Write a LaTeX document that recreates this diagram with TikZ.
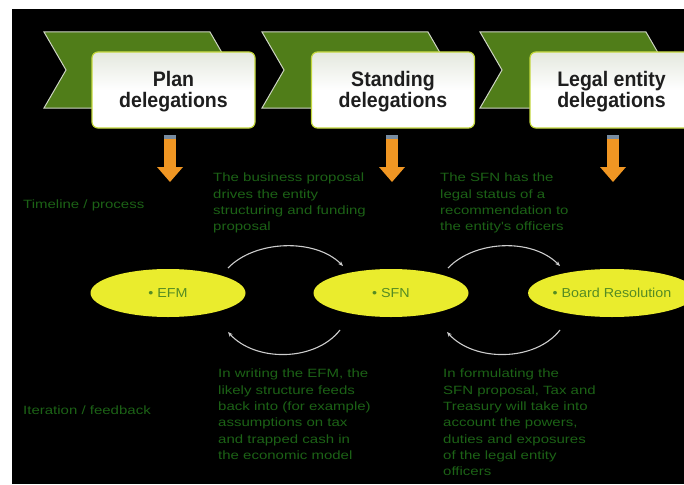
\documentclass[tikz,border=0pt]{standalone}
\usepackage{fontspec}
\setmainfont{Liberation Sans}
\newfontfamily\greenfont[FakeStretch=1.25]{Liberation Sans}
\newfontfamily\headfont[FakeStretch=0.93]{Liberation Sans}
\newfontfamily\ellfont[FakeStretch=1.1]{Liberation Sans}
\usetikzlibrary{shapes.geometric,arrows.meta,calc}
\definecolor{chevgreen}{RGB}{80,125,25}
\definecolor{chevline}{RGB}{205,212,195}
\definecolor{boxline}{RGB}{195,215,60}
\definecolor{boxtop}{RGB}{228,232,222}
\definecolor{arrorange}{RGB}{240,150,35}
\definecolor{arrtop}{RGB}{120,140,160}
\definecolor{ellfill}{RGB}{234,236,45}
\definecolor{elltext}{RGB}{85,140,35}
\definecolor{darkgreentext}{RGB}{28,98,22}
\definecolor{arcgray}{RGB}{205,205,205}
\begin{document}
\begin{tikzpicture}[x=1pt,y=-1pt,
  boxst/.style={draw=boxline, line width=1.2pt, top color=boxtop, bottom color=white,
    middle color=white, rounded corners=6pt,
    minimum width=163pt, minimum height=76pt, inner sep=0pt},
  headst/.style={align=center, text={rgb,255:red,30;green,30;blue,30},
    font=\headfont\bfseries\fontsize{21}{21}\selectfont, inner sep=0pt},
  ellst/.style={ellipse, fill=ellfill, minimum width=155pt, minimum height=48pt,
    inner sep=0pt, text=elltext, font=\ellfont\fontsize{13}{13}\selectfont},
  notest/.style={align=left, text=darkgreentext, inner sep=0pt,
    font=\greenfont\fontsize{12}{16.3}\selectfont},
  sidest/.style={text=darkgreentext, inner sep=0pt,
    font=\greenfont\fontsize{12}{14}\selectfont},
  chevst/.style={fill=chevgreen, draw=chevline, line width=1pt, line join=miter},
  arcst/.style={draw=arcgray, line width=1.1pt, -{Stealth[length=5pt,width=4pt]}}
]
\useasboundingbox (0,0) rectangle (684,484);
\fill[white] (0,0) rectangle (684,484);
\fill[black] (12,9) rectangle (684,484);

% chevrons
\foreach \x in {44,262,480}{
  \path[chevst] (\x,32) -- (\x+166,32) -- (\x+188,70) -- (\x+166,108)
    -- (\x,108) -- (\x+22,70) -- cycle;
}

% boxes
\node[boxst] (b1) at (173.5,90) {};
\node[boxst] (b2) at (393,90) {};
\node[boxst] (b3) at (611.5,90) {};
\node[headst] (t1) at ($(b1.center)+(0,2)$) {Plan\\delegations};
\node[headst] (t2) at ($(b2.center)+(0,2)$) {Standing\\delegations};
\node[headst] (t3) at ($(b3.center)+(0,2)$) {Legal entity\\delegations};

% orange arrows
\foreach \c/\n in {170/1,392/2,613/3}{
  \coordinate (a\n) at (\c,135);
  \fill[arrorange] ($(a\n)+(-6,0)$) rectangle ($(a\n)+(6,33)$);
  \fill[arrtop] ($(a\n)+(-6,0)$) rectangle ($(a\n)+(6,4)$);
  \fill[arrorange] ($(a\n)+(-13,32)$) -- ($(a\n)+(13,32)$) -- ($(a\n)+(0,47)$) -- cycle;
}

% side labels
\node[sidest, anchor=west] (lt) at (23,205) {Timeline / process};
\node[sidest, anchor=west] (li) at (23,410) {Iteration / feedback};

% ellipses
\node[ellst] (efm) at (168,293) {• EFM};
\node[ellst] (sfn) at (391,293) {• SFN};
\node[ellst] (br) at (612,293) {• Board Resolution};

% notes
\node[notest, anchor=north west] (n1) at (213,173)
  {The business proposal\\drives the entity\\structuring and funding\\proposal};
\node[notest, anchor=north west] (n2) at (440,173)
  {The SFN has the\\legal status of a\\recommendation to\\the entity's officers};
\node[notest, anchor=north west] (n3) at (218,369)
  {In writing the EFM, the\\likely structure feeds\\back into (for example)\\assumptions on tax\\and trapped cash in\\the economic model};
\node[notest, anchor=north west] (n4) at (443,369)
  {In formulating the\\SFN proposal, Tax and\\Treasury will take into\\account the powers,\\duties and exposures\\of the legal entity\\officers};

% arcs
\coordinate (p1s) at (228,268);
\coordinate (p1e) at (343,266);
\coordinate (p2s) at (448,268);
\coordinate (p2e) at (560,266);
\coordinate (q1s) at (340,330);
\coordinate (q1e) at (228,332);
\coordinate (q2s) at (560,330);
\coordinate (q2e) at (447,332);
\draw[arcst] (p1s) .. controls ($(p1s)+(27,-28)$) and ($(p1e)+(-28,-28)$) .. (p1e);
\draw[arcst] (p2s) .. controls ($(p2s)+(27,-28)$) and ($(p2e)+(-28,-28)$) .. (p2e);
\draw[arcst] (q1s) .. controls ($(q1s)+(-25,32)$) and ($(q1e)+(27,30)$) .. (q1e);
\draw[arcst] (q2s) .. controls ($(q2s)+(-25,32)$) and ($(q2e)+(27,30)$) .. (q2e);
\end{tikzpicture}
\end{document}
